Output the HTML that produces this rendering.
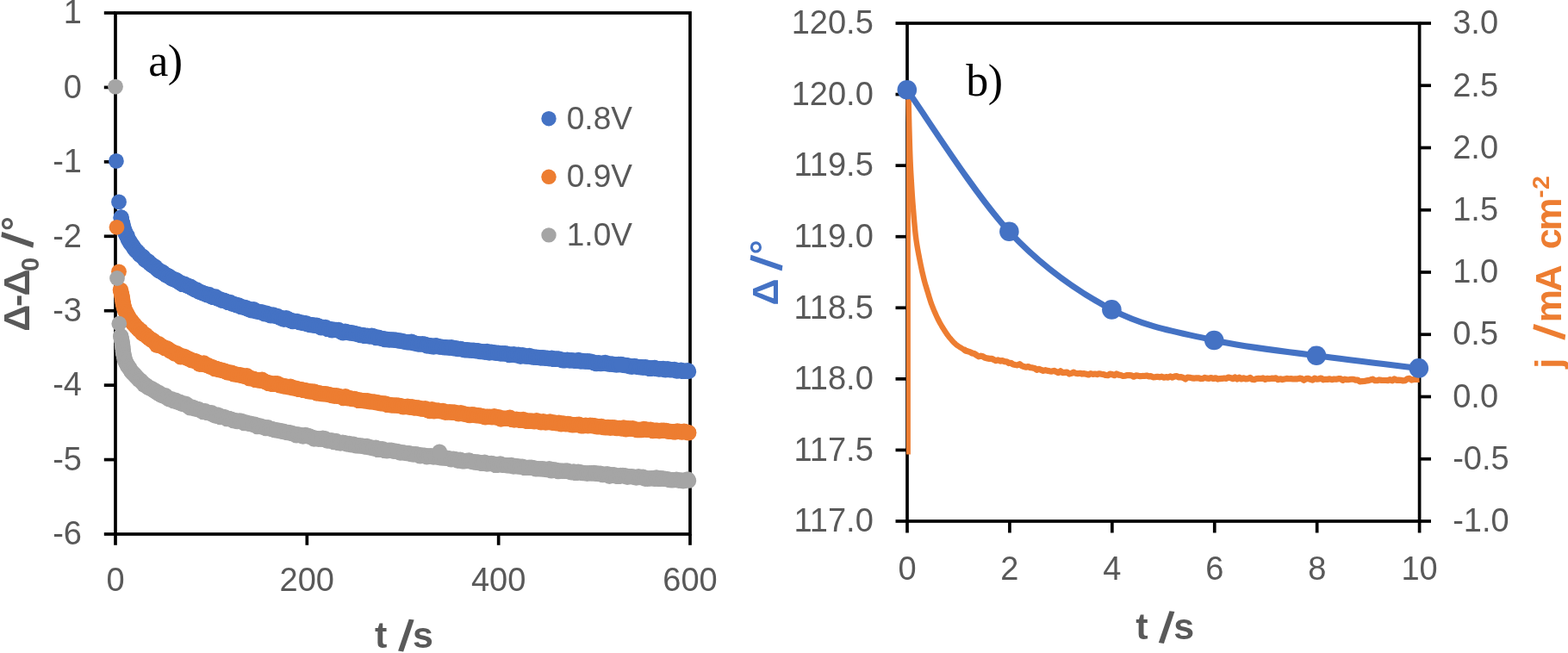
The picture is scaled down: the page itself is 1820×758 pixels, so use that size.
<!DOCTYPE html>
<html><head><meta charset="utf-8"><title>Chart</title>
<style>
html,body{margin:0;padding:0;background:#fff;}
body{width:1820px;height:758px;overflow:hidden;}
svg{display:block;}
</style></head><body>
<svg width="1820" height="758" viewBox="0 0 1820 758">
<rect width="1820" height="758" fill="#fff"/>
<rect x="134.0" y="15.0" width="667.0" height="605.0" fill="none" stroke="#000" stroke-width="3.7"/>
<line x1="120.8" y1="15.00" x2="134.0" y2="15.00" stroke="#000" stroke-width="3.7"/>
<line x1="120.8" y1="101.43" x2="134.0" y2="101.43" stroke="#000" stroke-width="3.7"/>
<line x1="120.8" y1="187.86" x2="134.0" y2="187.86" stroke="#000" stroke-width="3.7"/>
<line x1="120.8" y1="274.29" x2="134.0" y2="274.29" stroke="#000" stroke-width="3.7"/>
<line x1="120.8" y1="360.71" x2="134.0" y2="360.71" stroke="#000" stroke-width="3.7"/>
<line x1="120.8" y1="447.14" x2="134.0" y2="447.14" stroke="#000" stroke-width="3.7"/>
<line x1="120.8" y1="533.57" x2="134.0" y2="533.57" stroke="#000" stroke-width="3.7"/>
<line x1="120.8" y1="620.00" x2="134.0" y2="620.00" stroke="#000" stroke-width="3.7"/>
<line x1="134.00" y1="620.0" x2="134.00" y2="632.8" stroke="#000" stroke-width="3.7"/>
<line x1="356.33" y1="620.0" x2="356.33" y2="632.8" stroke="#000" stroke-width="3.7"/>
<line x1="578.67" y1="620.0" x2="578.67" y2="632.8" stroke="#000" stroke-width="3.7"/>
<line x1="801.00" y1="620.0" x2="801.00" y2="632.8" stroke="#000" stroke-width="3.7"/>
<path d="M140.60,252.40 L142.00,259.46 L143.00,263.10 L144.00,266.19 L145.00,268.91 L146.00,271.36 L147.00,273.60 L148.00,275.66 L149.00,277.59 L150.00,279.39 L151.00,281.10 L152.00,282.71 L153.00,284.25 L154.00,285.66 L155.00,287.01 L156.00,288.30 L157.00,289.55 L158.00,290.75 L159.00,291.92 L160.00,293.04 L164.00,297.24 L168.00,301.01 L172.00,304.46 L176.00,307.65 L180.00,310.62 L184.00,313.41 L188.00,316.04 L192.00,318.53 L196.00,320.89 L200.00,323.16 L204.00,325.32 L208.00,327.40 L212.00,329.39 L216.00,331.32 L220.00,333.18 L224.00,334.98 L228.00,336.73 L232.00,338.42 L236.00,340.06 L240.00,341.66 L248.00,344.74 L256.00,347.66 L264.00,350.45 L272.00,353.12 L280.00,355.68 L288.00,358.15 L296.00,360.52 L304.00,362.80 L312.00,365.01 L320.00,367.14 L328.00,369.20 L336.00,371.20 L344.00,373.13 L352.00,375.00 L360.00,376.82 L368.00,378.58 L376.00,380.29 L384.00,381.94 L392.00,383.55 L400.00,385.10 L408.00,386.61 L416.00,388.07 L424.00,389.48 L432.00,390.85 L440.00,392.17 L448.00,393.46 L456.00,394.70 L464.00,395.91 L472.00,397.08 L480.00,398.22 L488.00,399.33 L496.00,400.41 L504.00,401.46 L512.00,402.48 L520.00,403.47 L528.00,404.44 L536.00,405.39 L544.00,406.32 L552.00,407.22 L560.00,408.11 L568.00,408.98 L576.00,409.83 L584.00,410.67 L592.00,411.49 L600.00,412.30 L608.00,413.10 L616.00,413.89 L624.00,414.67 L632.00,415.43 L640.00,416.20 L648.00,416.95 L656.00,417.70 L664.00,418.44 L672.00,419.18 L680.00,419.92 L688.00,420.66 L696.00,421.39 L704.00,422.13 L712.00,422.87 L720.00,423.60 L728.00,424.35 L736.00,425.09 L744.00,425.84 L752.00,426.60 L760.00,427.36 L768.00,428.13 L776.00,428.91 L784.00,429.70 L792.00,430.49 L799.50,431.25" fill="none" stroke="#4472C4" stroke-width="17.4" stroke-linecap="round" stroke-linejoin="round"/><g fill="#4472C4"><circle cx="140.6" cy="252.4" r="9.2"/><circle cx="141.1" cy="255.7" r="9.2"/><circle cx="141.6" cy="258.2" r="9.2"/><circle cx="142.2" cy="259.8" r="9.2"/><circle cx="142.8" cy="262.4" r="9.2"/><circle cx="143.6" cy="264.7" r="9.2"/><circle cx="144.5" cy="267.8" r="9.2"/><circle cx="145.4" cy="269.9" r="9.2"/><circle cx="146.4" cy="272.7" r="9.2"/><circle cx="147.5" cy="273.6" r="9.2"/><circle cx="148.7" cy="277.8" r="9.2"/><circle cx="149.9" cy="279.2" r="9.2"/><circle cx="151.3" cy="281.9" r="9.2"/><circle cx="152.6" cy="283.6" r="9.2"/><circle cx="154.1" cy="285.6" r="9.2"/><circle cx="155.7" cy="288.2" r="9.2"/><circle cx="157.3" cy="290.4" r="9.2"/><circle cx="159.0" cy="291.8" r="9.2"/><circle cx="160.8" cy="293.8" r="9.2"/><circle cx="162.6" cy="296.1" r="9.2"/><circle cx="164.4" cy="297.1" r="9.2"/><circle cx="166.3" cy="298.5" r="9.2"/><circle cx="168.2" cy="301.4" r="9.2"/><circle cx="170.1" cy="302.5" r="9.2"/><circle cx="172.1" cy="303.5" r="9.2"/><circle cx="174.1" cy="305.7" r="9.2"/><circle cx="176.2" cy="307.5" r="9.2"/><circle cx="178.3" cy="308.7" r="9.2"/><circle cx="180.3" cy="310.0" r="9.2"/><circle cx="182.5" cy="312.4" r="9.2"/><circle cx="184.6" cy="314.3" r="9.2"/><circle cx="186.8" cy="315.1" r="9.2"/><circle cx="189.0" cy="316.2" r="9.2"/><circle cx="191.2" cy="318.2" r="9.2"/><circle cx="193.4" cy="319.8" r="9.2"/><circle cx="195.7" cy="320.5" r="9.2"/><circle cx="197.9" cy="322.3" r="9.2"/><circle cx="200.2" cy="323.8" r="9.2"/><circle cx="202.5" cy="324.4" r="9.2"/><circle cx="204.8" cy="325.3" r="9.2"/><circle cx="207.1" cy="327.1" r="9.2"/><circle cx="209.4" cy="328.2" r="9.2"/><circle cx="211.7" cy="329.9" r="9.2"/><circle cx="214.1" cy="329.7" r="9.2"/><circle cx="216.4" cy="331.1" r="9.2"/><circle cx="218.8" cy="332.1" r="9.2"/><circle cx="221.1" cy="332.7" r="9.2"/><circle cx="223.5" cy="334.8" r="9.2"/><circle cx="225.9" cy="336.1" r="9.2"/><circle cx="228.3" cy="336.4" r="9.2"/><circle cx="230.7" cy="338.6" r="9.2"/><circle cx="233.1" cy="339.3" r="9.2"/><circle cx="235.5" cy="340.2" r="9.2"/><circle cx="237.9" cy="341.0" r="9.2"/><circle cx="240.3" cy="342.3" r="9.2"/><circle cx="242.7" cy="342.0" r="9.2"/><circle cx="245.1" cy="344.0" r="9.2"/><circle cx="247.6" cy="344.9" r="9.2"/><circle cx="250.0" cy="344.5" r="9.2"/><circle cx="252.4" cy="346.6" r="9.2"/><circle cx="254.9" cy="347.1" r="9.2"/><circle cx="257.3" cy="348.6" r="9.2"/><circle cx="259.8" cy="348.7" r="9.2"/><circle cx="262.2" cy="349.8" r="9.2"/><circle cx="264.7" cy="350.9" r="9.2"/><circle cx="267.2" cy="351.0" r="9.2"/><circle cx="269.6" cy="352.7" r="9.2"/><circle cx="272.1" cy="353.1" r="9.2"/><circle cx="274.6" cy="354.2" r="9.2"/><circle cx="277.1" cy="354.5" r="9.2"/><circle cx="279.5" cy="356.1" r="9.2"/><circle cx="282.0" cy="356.6" r="9.2"/><circle cx="284.5" cy="357.0" r="9.2"/><circle cx="287.0" cy="358.2" r="9.2"/><circle cx="289.5" cy="359.3" r="9.2"/><circle cx="292.0" cy="360.3" r="9.2"/><circle cx="294.5" cy="359.2" r="9.2"/><circle cx="297.0" cy="361.3" r="9.2"/><circle cx="299.5" cy="361.8" r="9.2"/><circle cx="302.0" cy="362.2" r="9.2"/><circle cx="304.5" cy="362.4" r="9.2"/><circle cx="307.0" cy="364.3" r="9.2"/><circle cx="309.5" cy="363.6" r="9.2"/><circle cx="312.0" cy="365.3" r="9.2"/><circle cx="314.5" cy="366.4" r="9.2"/><circle cx="317.0" cy="365.5" r="9.2"/><circle cx="319.5" cy="366.8" r="9.2"/><circle cx="322.0" cy="366.9" r="9.2"/><circle cx="324.5" cy="368.4" r="9.2"/><circle cx="327.1" cy="369.8" r="9.2"/><circle cx="329.6" cy="370.7" r="9.2"/><circle cx="332.1" cy="369.2" r="9.2"/><circle cx="334.6" cy="370.5" r="9.2"/><circle cx="337.2" cy="371.9" r="9.2"/><circle cx="339.7" cy="373.0" r="9.2"/><circle cx="342.2" cy="372.9" r="9.2"/><circle cx="344.7" cy="372.9" r="9.2"/><circle cx="347.3" cy="374.1" r="9.2"/><circle cx="349.8" cy="374.5" r="9.2"/><circle cx="352.3" cy="375.0" r="9.2"/><circle cx="354.9" cy="375.3" r="9.2"/><circle cx="357.4" cy="376.4" r="9.2"/><circle cx="359.9" cy="377.0" r="9.2"/><circle cx="362.5" cy="377.3" r="9.2"/><circle cx="365.0" cy="377.8" r="9.2"/><circle cx="367.6" cy="377.8" r="9.2"/><circle cx="370.1" cy="378.8" r="9.2"/><circle cx="372.6" cy="380.2" r="9.2"/><circle cx="375.2" cy="380.0" r="9.2"/><circle cx="377.7" cy="379.9" r="9.2"/><circle cx="380.3" cy="381.9" r="9.2"/><circle cx="382.8" cy="382.0" r="9.2"/><circle cx="385.4" cy="383.4" r="9.2"/><circle cx="387.9" cy="382.8" r="9.2"/><circle cx="390.5" cy="383.0" r="9.2"/><circle cx="393.0" cy="382.9" r="9.2"/><circle cx="395.6" cy="385.0" r="9.2"/><circle cx="398.1" cy="386.2" r="9.2"/><circle cx="400.7" cy="384.8" r="9.2"/><circle cx="403.2" cy="385.4" r="9.2"/><circle cx="405.8" cy="386.5" r="9.2"/><circle cx="408.3" cy="386.2" r="9.2"/><circle cx="410.9" cy="387.0" r="9.2"/><circle cx="413.5" cy="387.4" r="9.2"/><circle cx="416.0" cy="388.2" r="9.2"/><circle cx="418.6" cy="389.1" r="9.2"/><circle cx="421.1" cy="389.0" r="9.2"/><circle cx="423.7" cy="389.9" r="9.2"/><circle cx="426.3" cy="389.6" r="9.2"/><circle cx="428.8" cy="390.5" r="9.2"/><circle cx="431.4" cy="389.6" r="9.2"/><circle cx="434.0" cy="390.4" r="9.2"/><circle cx="436.5" cy="392.0" r="9.2"/><circle cx="439.1" cy="391.7" r="9.2"/><circle cx="441.6" cy="392.8" r="9.2"/><circle cx="444.2" cy="393.1" r="9.2"/><circle cx="446.8" cy="394.0" r="9.2"/><circle cx="449.4" cy="394.1" r="9.2"/><circle cx="451.9" cy="394.6" r="9.2"/><circle cx="454.5" cy="394.4" r="9.2"/><circle cx="457.1" cy="394.5" r="9.2"/><circle cx="459.6" cy="394.8" r="9.2"/><circle cx="462.2" cy="395.4" r="9.2"/><circle cx="464.8" cy="395.4" r="9.2"/><circle cx="467.3" cy="396.1" r="9.2"/><circle cx="469.9" cy="396.7" r="9.2"/><circle cx="472.5" cy="397.3" r="9.2"/><circle cx="475.1" cy="397.3" r="9.2"/><circle cx="477.6" cy="396.8" r="9.2"/><circle cx="480.2" cy="398.2" r="9.2"/><circle cx="482.8" cy="398.7" r="9.2"/><circle cx="485.4" cy="399.6" r="9.2"/><circle cx="487.9" cy="399.6" r="9.2"/><circle cx="490.5" cy="399.3" r="9.2"/><circle cx="493.1" cy="399.6" r="9.2"/><circle cx="495.7" cy="401.5" r="9.2"/><circle cx="498.2" cy="401.1" r="9.2"/><circle cx="500.8" cy="402.0" r="9.2"/><circle cx="503.4" cy="402.5" r="9.2"/><circle cx="506.0" cy="401.3" r="9.2"/><circle cx="508.6" cy="402.2" r="9.2"/><circle cx="511.1" cy="402.6" r="9.2"/><circle cx="513.7" cy="403.0" r="9.2"/><circle cx="516.3" cy="403.3" r="9.2"/><circle cx="518.9" cy="403.4" r="9.2"/><circle cx="521.5" cy="403.7" r="9.2"/><circle cx="524.0" cy="403.1" r="9.2"/><circle cx="526.6" cy="404.2" r="9.2"/><circle cx="529.2" cy="404.2" r="9.2"/><circle cx="531.8" cy="405.0" r="9.2"/><circle cx="534.4" cy="404.9" r="9.2"/><circle cx="536.9" cy="405.8" r="9.2"/><circle cx="539.5" cy="406.3" r="9.2"/><circle cx="542.1" cy="406.3" r="9.2"/><circle cx="544.7" cy="406.6" r="9.2"/><circle cx="547.3" cy="406.7" r="9.2"/><circle cx="549.9" cy="406.7" r="9.2"/><circle cx="552.4" cy="407.2" r="9.2"/><circle cx="555.0" cy="407.3" r="9.2"/><circle cx="557.6" cy="408.1" r="9.2"/><circle cx="560.2" cy="408.1" r="9.2"/><circle cx="562.8" cy="408.7" r="9.2"/><circle cx="565.4" cy="408.0" r="9.2"/><circle cx="568.0" cy="409.5" r="9.2"/><circle cx="570.5" cy="408.8" r="9.2"/><circle cx="573.1" cy="409.1" r="9.2"/><circle cx="575.7" cy="409.7" r="9.2"/><circle cx="578.3" cy="409.8" r="9.2"/><circle cx="580.9" cy="410.5" r="9.2"/><circle cx="583.5" cy="410.3" r="9.2"/><circle cx="586.1" cy="410.3" r="9.2"/><circle cx="588.6" cy="410.7" r="9.2"/><circle cx="591.2" cy="412.1" r="9.2"/><circle cx="593.8" cy="411.7" r="9.2"/><circle cx="596.4" cy="411.3" r="9.2"/><circle cx="599.0" cy="412.2" r="9.2"/><circle cx="601.6" cy="411.6" r="9.2"/><circle cx="604.2" cy="413.7" r="9.2"/><circle cx="606.7" cy="412.1" r="9.2"/><circle cx="609.3" cy="413.5" r="9.2"/><circle cx="611.9" cy="413.8" r="9.2"/><circle cx="614.5" cy="412.9" r="9.2"/><circle cx="617.1" cy="414.2" r="9.2"/><circle cx="619.7" cy="414.8" r="9.2"/><circle cx="622.3" cy="414.8" r="9.2"/><circle cx="624.9" cy="414.9" r="9.2"/><circle cx="627.5" cy="415.5" r="9.2"/><circle cx="630.0" cy="415.3" r="9.2"/><circle cx="632.6" cy="415.7" r="9.2"/><circle cx="635.2" cy="415.7" r="9.2"/><circle cx="637.8" cy="416.3" r="9.2"/><circle cx="640.4" cy="415.7" r="9.2"/><circle cx="643.0" cy="416.9" r="9.2"/><circle cx="645.6" cy="416.4" r="9.2"/><circle cx="648.2" cy="416.4" r="9.2"/><circle cx="650.7" cy="417.4" r="9.2"/><circle cx="653.3" cy="418.4" r="9.2"/><circle cx="655.9" cy="418.2" r="9.2"/><circle cx="658.5" cy="417.6" r="9.2"/><circle cx="661.1" cy="418.6" r="9.2"/><circle cx="663.7" cy="418.2" r="9.2"/><circle cx="666.3" cy="418.6" r="9.2"/><circle cx="668.9" cy="418.9" r="9.2"/><circle cx="671.5" cy="417.9" r="9.2"/><circle cx="674.0" cy="419.5" r="9.2"/><circle cx="676.6" cy="419.0" r="9.2"/><circle cx="679.2" cy="419.5" r="9.2"/><circle cx="681.8" cy="419.3" r="9.2"/><circle cx="684.4" cy="419.5" r="9.2"/><circle cx="687.0" cy="420.0" r="9.2"/><circle cx="689.6" cy="421.3" r="9.2"/><circle cx="692.2" cy="422.0" r="9.2"/><circle cx="694.8" cy="421.3" r="9.2"/><circle cx="697.3" cy="422.1" r="9.2"/><circle cx="699.9" cy="421.6" r="9.2"/><circle cx="702.5" cy="420.9" r="9.2"/><circle cx="705.1" cy="422.3" r="9.2"/><circle cx="707.7" cy="422.7" r="9.2"/><circle cx="710.3" cy="422.5" r="9.2"/><circle cx="712.9" cy="423.1" r="9.2"/><circle cx="715.5" cy="423.5" r="9.2"/><circle cx="718.1" cy="423.0" r="9.2"/><circle cx="720.6" cy="422.9" r="9.2"/><circle cx="723.2" cy="423.8" r="9.2"/><circle cx="725.8" cy="424.0" r="9.2"/><circle cx="728.4" cy="424.2" r="9.2"/><circle cx="731.0" cy="425.2" r="9.2"/><circle cx="733.6" cy="425.8" r="9.2"/><circle cx="736.2" cy="424.9" r="9.2"/><circle cx="738.8" cy="425.7" r="9.2"/><circle cx="741.4" cy="426.1" r="9.2"/><circle cx="743.9" cy="426.2" r="9.2"/><circle cx="746.5" cy="426.7" r="9.2"/><circle cx="749.1" cy="426.1" r="9.2"/><circle cx="751.7" cy="427.0" r="9.2"/><circle cx="754.3" cy="427.9" r="9.2"/><circle cx="756.9" cy="427.5" r="9.2"/><circle cx="759.5" cy="427.0" r="9.2"/><circle cx="762.1" cy="427.9" r="9.2"/><circle cx="764.7" cy="428.5" r="9.2"/><circle cx="767.2" cy="428.3" r="9.2"/><circle cx="769.8" cy="428.0" r="9.2"/><circle cx="772.4" cy="429.4" r="9.2"/><circle cx="775.0" cy="428.1" r="9.2"/><circle cx="777.6" cy="429.3" r="9.2"/><circle cx="780.2" cy="429.3" r="9.2"/><circle cx="782.8" cy="428.9" r="9.2"/><circle cx="785.4" cy="430.5" r="9.2"/><circle cx="787.9" cy="430.3" r="9.2"/><circle cx="790.5" cy="429.7" r="9.2"/><circle cx="793.1" cy="430.9" r="9.2"/><circle cx="795.7" cy="430.6" r="9.2"/><circle cx="798.3" cy="430.1" r="9.2"/></g>
<circle cx="134.9" cy="186.9" r="8.9" fill="#4472C4"/><circle cx="138.0" cy="234.4" r="8.9" fill="#4472C4"/><circle cx="140.6" cy="252.4" r="8.9" fill="#4472C4"/><circle cx="721.4" cy="422.8" r="8.9" fill="#4472C4"/>
<path d="M139.90,337.00 L141.20,341.50 L143.00,352.99 L144.00,356.86 L145.00,359.69 L146.00,362.03 L147.00,364.07 L148.00,365.90 L149.00,367.58 L150.00,369.15 L151.00,370.61 L152.00,372.00 L153.00,373.33 L154.00,374.60 L155.00,375.85 L156.00,377.05 L157.00,378.20 L158.00,379.31 L159.00,380.38 L160.00,381.42 L164.00,385.26 L168.00,388.70 L172.00,391.82 L176.00,394.69 L180.00,397.35 L184.00,399.82 L188.00,402.14 L192.00,404.32 L196.00,406.38 L200.00,408.34 L204.00,410.20 L208.00,411.97 L212.00,413.68 L216.00,415.31 L220.00,416.89 L224.00,418.42 L228.00,419.91 L232.00,421.35 L236.00,422.75 L240.00,424.11 L248.00,426.73 L256.00,429.22 L264.00,431.61 L272.00,433.89 L280.00,436.08 L288.00,438.18 L296.00,440.21 L304.00,442.16 L312.00,444.05 L320.00,445.88 L328.00,447.64 L336.00,449.35 L344.00,451.01 L352.00,452.62 L360.00,454.18 L368.00,455.70 L376.00,457.17 L384.00,458.61 L392.00,460.01 L400.00,461.37 L408.00,462.70 L416.00,464.00 L424.00,465.26 L432.00,466.50 L440.00,467.70 L448.00,468.88 L456.00,470.03 L464.00,471.16 L472.00,472.26 L480.00,473.34 L488.00,474.39 L496.00,475.42 L504.00,476.43 L512.00,477.42 L520.00,478.38 L528.00,479.33 L536.00,480.26 L544.00,481.16 L552.00,482.05 L560.00,482.92 L568.00,483.78 L576.00,484.61 L584.00,485.43 L592.00,486.23 L600.00,487.01 L608.00,487.78 L616.00,488.53 L624.00,489.27 L632.00,489.99 L640.00,490.70 L648.00,491.39 L656.00,492.06 L664.00,492.73 L672.00,493.37 L680.00,494.01 L688.00,494.63 L696.00,495.23 L704.00,495.82 L712.00,496.40 L720.00,496.97 L728.00,497.52 L736.00,498.06 L744.00,498.58 L752.00,499.09 L760.00,499.59 L768.00,500.08 L776.00,500.56 L784.00,501.02 L792.00,501.47 L799.50,501.88" fill="none" stroke="#ED7D31" stroke-width="17.4" stroke-linecap="round" stroke-linejoin="round"/><g fill="#ED7D31"><circle cx="139.9" cy="336.6" r="9.2"/><circle cx="140.6" cy="339.6" r="9.2"/><circle cx="141.3" cy="342.4" r="9.2"/><circle cx="141.7" cy="344.7" r="9.2"/><circle cx="142.1" cy="347.2" r="9.2"/><circle cx="142.5" cy="350.0" r="9.2"/><circle cx="142.9" cy="352.2" r="9.2"/><circle cx="143.5" cy="355.5" r="9.2"/><circle cx="144.2" cy="357.4" r="9.2"/><circle cx="145.0" cy="359.9" r="9.2"/><circle cx="146.1" cy="362.5" r="9.2"/><circle cx="147.2" cy="363.9" r="9.2"/><circle cx="148.5" cy="366.4" r="9.2"/><circle cx="149.9" cy="369.8" r="9.2"/><circle cx="151.3" cy="371.3" r="9.2"/><circle cx="152.9" cy="373.0" r="9.2"/><circle cx="154.5" cy="375.4" r="9.2"/><circle cx="156.2" cy="377.0" r="9.2"/><circle cx="157.9" cy="379.3" r="9.2"/><circle cx="159.7" cy="380.7" r="9.2"/><circle cx="161.5" cy="383.0" r="9.2"/><circle cx="163.4" cy="383.8" r="9.2"/><circle cx="165.3" cy="387.1" r="9.2"/><circle cx="167.3" cy="387.8" r="9.2"/><circle cx="169.3" cy="388.9" r="9.2"/><circle cx="171.4" cy="391.2" r="9.2"/><circle cx="173.5" cy="392.7" r="9.2"/><circle cx="175.6" cy="394.5" r="9.2"/><circle cx="177.7" cy="395.2" r="9.2"/><circle cx="179.9" cy="397.5" r="9.2"/><circle cx="182.1" cy="400.7" r="9.2"/><circle cx="184.3" cy="399.3" r="9.2"/><circle cx="186.6" cy="401.5" r="9.2"/><circle cx="188.9" cy="402.4" r="9.2"/><circle cx="191.1" cy="404.0" r="9.2"/><circle cx="193.4" cy="404.1" r="9.2"/><circle cx="195.7" cy="405.6" r="9.2"/><circle cx="198.1" cy="407.7" r="9.2"/><circle cx="200.4" cy="408.5" r="9.2"/><circle cx="202.8" cy="410.5" r="9.2"/><circle cx="205.1" cy="410.3" r="9.2"/><circle cx="207.5" cy="411.9" r="9.2"/><circle cx="209.9" cy="414.4" r="9.2"/><circle cx="212.3" cy="413.4" r="9.2"/><circle cx="214.7" cy="414.3" r="9.2"/><circle cx="217.1" cy="415.7" r="9.2"/><circle cx="219.5" cy="416.7" r="9.2"/><circle cx="222.0" cy="418.1" r="9.2"/><circle cx="224.4" cy="418.6" r="9.2"/><circle cx="226.8" cy="419.1" r="9.2"/><circle cx="229.3" cy="420.5" r="9.2"/><circle cx="231.7" cy="422.7" r="9.2"/><circle cx="234.2" cy="422.8" r="9.2"/><circle cx="236.6" cy="421.4" r="9.2"/><circle cx="239.1" cy="423.7" r="9.2"/><circle cx="241.6" cy="424.1" r="9.2"/><circle cx="244.0" cy="425.8" r="9.2"/><circle cx="246.5" cy="426.1" r="9.2"/><circle cx="249.0" cy="428.1" r="9.2"/><circle cx="251.5" cy="428.3" r="9.2"/><circle cx="253.9" cy="429.1" r="9.2"/><circle cx="256.4" cy="429.5" r="9.2"/><circle cx="258.9" cy="430.1" r="9.2"/><circle cx="261.4" cy="431.0" r="9.2"/><circle cx="263.9" cy="432.3" r="9.2"/><circle cx="266.4" cy="432.6" r="9.2"/><circle cx="268.9" cy="432.8" r="9.2"/><circle cx="271.4" cy="434.4" r="9.2"/><circle cx="273.9" cy="434.5" r="9.2"/><circle cx="276.4" cy="435.1" r="9.2"/><circle cx="278.9" cy="435.3" r="9.2"/><circle cx="281.4" cy="436.1" r="9.2"/><circle cx="283.9" cy="436.8" r="9.2"/><circle cx="286.5" cy="436.2" r="9.2"/><circle cx="289.0" cy="439.0" r="9.2"/><circle cx="291.5" cy="439.4" r="9.2"/><circle cx="294.0" cy="439.6" r="9.2"/><circle cx="296.5" cy="440.9" r="9.2"/><circle cx="299.1" cy="441.2" r="9.2"/><circle cx="301.6" cy="441.8" r="9.2"/><circle cx="304.1" cy="440.8" r="9.2"/><circle cx="306.7" cy="442.7" r="9.2"/><circle cx="309.2" cy="443.7" r="9.2"/><circle cx="311.7" cy="444.9" r="9.2"/><circle cx="314.2" cy="445.6" r="9.2"/><circle cx="316.8" cy="445.9" r="9.2"/><circle cx="319.3" cy="445.1" r="9.2"/><circle cx="321.9" cy="445.1" r="9.2"/><circle cx="324.4" cy="447.2" r="9.2"/><circle cx="326.9" cy="447.4" r="9.2"/><circle cx="329.5" cy="448.5" r="9.2"/><circle cx="332.0" cy="448.4" r="9.2"/><circle cx="334.6" cy="449.2" r="9.2"/><circle cx="337.1" cy="448.8" r="9.2"/><circle cx="339.6" cy="450.4" r="9.2"/><circle cx="342.2" cy="450.4" r="9.2"/><circle cx="344.7" cy="451.3" r="9.2"/><circle cx="347.3" cy="451.9" r="9.2"/><circle cx="349.8" cy="452.1" r="9.2"/><circle cx="352.4" cy="452.9" r="9.2"/><circle cx="354.9" cy="453.2" r="9.2"/><circle cx="357.5" cy="454.1" r="9.2"/><circle cx="360.0" cy="454.5" r="9.2"/><circle cx="362.6" cy="454.4" r="9.2"/><circle cx="365.2" cy="454.8" r="9.2"/><circle cx="367.7" cy="456.6" r="9.2"/><circle cx="370.3" cy="456.1" r="9.2"/><circle cx="372.8" cy="457.1" r="9.2"/><circle cx="375.4" cy="457.3" r="9.2"/><circle cx="377.9" cy="457.2" r="9.2"/><circle cx="380.5" cy="457.6" r="9.2"/><circle cx="383.1" cy="458.5" r="9.2"/><circle cx="385.6" cy="459.0" r="9.2"/><circle cx="388.2" cy="459.7" r="9.2"/><circle cx="390.7" cy="459.1" r="9.2"/><circle cx="393.3" cy="459.9" r="9.2"/><circle cx="395.9" cy="460.6" r="9.2"/><circle cx="398.4" cy="462.0" r="9.2"/><circle cx="401.0" cy="460.2" r="9.2"/><circle cx="403.6" cy="462.2" r="9.2"/><circle cx="406.1" cy="462.1" r="9.2"/><circle cx="408.7" cy="463.0" r="9.2"/><circle cx="411.2" cy="463.0" r="9.2"/><circle cx="413.8" cy="463.8" r="9.2"/><circle cx="416.4" cy="464.9" r="9.2"/><circle cx="419.0" cy="464.7" r="9.2"/><circle cx="421.5" cy="465.1" r="9.2"/><circle cx="424.1" cy="465.5" r="9.2"/><circle cx="426.7" cy="465.3" r="9.2"/><circle cx="429.2" cy="466.4" r="9.2"/><circle cx="431.8" cy="466.4" r="9.2"/><circle cx="434.4" cy="466.4" r="9.2"/><circle cx="436.9" cy="467.2" r="9.2"/><circle cx="439.5" cy="467.5" r="9.2"/><circle cx="442.1" cy="468.4" r="9.2"/><circle cx="444.7" cy="468.4" r="9.2"/><circle cx="447.2" cy="468.5" r="9.2"/><circle cx="449.8" cy="469.9" r="9.2"/><circle cx="452.4" cy="470.1" r="9.2"/><circle cx="454.9" cy="470.6" r="9.2"/><circle cx="457.5" cy="470.6" r="9.2"/><circle cx="460.1" cy="470.5" r="9.2"/><circle cx="462.7" cy="470.7" r="9.2"/><circle cx="465.2" cy="471.2" r="9.2"/><circle cx="467.8" cy="472.2" r="9.2"/><circle cx="470.4" cy="472.1" r="9.2"/><circle cx="473.0" cy="471.6" r="9.2"/><circle cx="475.5" cy="472.7" r="9.2"/><circle cx="478.1" cy="472.3" r="9.2"/><circle cx="480.7" cy="473.5" r="9.2"/><circle cx="483.3" cy="473.1" r="9.2"/><circle cx="485.9" cy="473.4" r="9.2"/><circle cx="488.4" cy="474.5" r="9.2"/><circle cx="491.0" cy="474.7" r="9.2"/><circle cx="493.6" cy="474.2" r="9.2"/><circle cx="496.2" cy="475.9" r="9.2"/><circle cx="498.8" cy="477.0" r="9.2"/><circle cx="501.3" cy="475.3" r="9.2"/><circle cx="503.9" cy="477.4" r="9.2"/><circle cx="506.5" cy="476.4" r="9.2"/><circle cx="509.1" cy="476.8" r="9.2"/><circle cx="511.7" cy="477.3" r="9.2"/><circle cx="514.2" cy="476.9" r="9.2"/><circle cx="516.8" cy="478.7" r="9.2"/><circle cx="519.4" cy="478.6" r="9.2"/><circle cx="522.0" cy="478.2" r="9.2"/><circle cx="524.6" cy="478.8" r="9.2"/><circle cx="527.1" cy="478.4" r="9.2"/><circle cx="529.7" cy="479.3" r="9.2"/><circle cx="532.3" cy="480.3" r="9.2"/><circle cx="534.9" cy="479.2" r="9.2"/><circle cx="537.5" cy="480.2" r="9.2"/><circle cx="540.1" cy="480.8" r="9.2"/><circle cx="542.6" cy="481.6" r="9.2"/><circle cx="545.2" cy="482.0" r="9.2"/><circle cx="547.8" cy="481.3" r="9.2"/><circle cx="550.4" cy="481.5" r="9.2"/><circle cx="553.0" cy="482.4" r="9.2"/><circle cx="555.6" cy="482.2" r="9.2"/><circle cx="558.1" cy="482.6" r="9.2"/><circle cx="560.7" cy="483.6" r="9.2"/><circle cx="563.3" cy="484.2" r="9.2"/><circle cx="565.9" cy="483.7" r="9.2"/><circle cx="568.5" cy="483.7" r="9.2"/><circle cx="571.1" cy="484.4" r="9.2"/><circle cx="573.7" cy="483.3" r="9.2"/><circle cx="576.2" cy="484.6" r="9.2"/><circle cx="578.8" cy="484.3" r="9.2"/><circle cx="581.4" cy="486.5" r="9.2"/><circle cx="584.0" cy="485.8" r="9.2"/><circle cx="586.6" cy="485.8" r="9.2"/><circle cx="589.2" cy="485.8" r="9.2"/><circle cx="591.8" cy="484.8" r="9.2"/><circle cx="594.4" cy="486.9" r="9.2"/><circle cx="596.9" cy="487.6" r="9.2"/><circle cx="599.5" cy="486.6" r="9.2"/><circle cx="602.1" cy="487.6" r="9.2"/><circle cx="604.7" cy="487.9" r="9.2"/><circle cx="607.3" cy="486.9" r="9.2"/><circle cx="609.9" cy="488.5" r="9.2"/><circle cx="612.5" cy="488.9" r="9.2"/><circle cx="615.1" cy="488.6" r="9.2"/><circle cx="617.6" cy="488.7" r="9.2"/><circle cx="620.2" cy="489.4" r="9.2"/><circle cx="622.8" cy="488.3" r="9.2"/><circle cx="625.4" cy="489.4" r="9.2"/><circle cx="628.0" cy="490.2" r="9.2"/><circle cx="630.6" cy="489.2" r="9.2"/><circle cx="633.2" cy="490.6" r="9.2"/><circle cx="635.8" cy="490.1" r="9.2"/><circle cx="638.4" cy="489.4" r="9.2"/><circle cx="641.0" cy="490.7" r="9.2"/><circle cx="643.5" cy="490.5" r="9.2"/><circle cx="646.1" cy="491.4" r="9.2"/><circle cx="648.7" cy="490.8" r="9.2"/><circle cx="651.3" cy="492.2" r="9.2"/><circle cx="653.9" cy="491.5" r="9.2"/><circle cx="656.5" cy="492.3" r="9.2"/><circle cx="659.1" cy="492.0" r="9.2"/><circle cx="661.7" cy="492.4" r="9.2"/><circle cx="664.3" cy="493.4" r="9.2"/><circle cx="666.9" cy="493.1" r="9.2"/><circle cx="669.5" cy="493.0" r="9.2"/><circle cx="672.0" cy="492.7" r="9.2"/><circle cx="674.6" cy="494.2" r="9.2"/><circle cx="677.2" cy="494.2" r="9.2"/><circle cx="679.8" cy="493.8" r="9.2"/><circle cx="682.4" cy="494.3" r="9.2"/><circle cx="685.0" cy="493.8" r="9.2"/><circle cx="687.6" cy="494.0" r="9.2"/><circle cx="690.2" cy="494.3" r="9.2"/><circle cx="692.8" cy="495.2" r="9.2"/><circle cx="695.4" cy="495.3" r="9.2"/><circle cx="698.0" cy="495.0" r="9.2"/><circle cx="700.6" cy="496.0" r="9.2"/><circle cx="703.2" cy="496.2" r="9.2"/><circle cx="705.7" cy="496.0" r="9.2"/><circle cx="708.3" cy="496.7" r="9.2"/><circle cx="710.9" cy="496.2" r="9.2"/><circle cx="713.5" cy="496.4" r="9.2"/><circle cx="716.1" cy="497.0" r="9.2"/><circle cx="718.7" cy="496.9" r="9.2"/><circle cx="721.3" cy="497.5" r="9.2"/><circle cx="723.9" cy="496.5" r="9.2"/><circle cx="726.5" cy="498.2" r="9.2"/><circle cx="729.1" cy="497.2" r="9.2"/><circle cx="731.7" cy="497.7" r="9.2"/><circle cx="734.3" cy="497.2" r="9.2"/><circle cx="736.9" cy="498.4" r="9.2"/><circle cx="739.5" cy="499.0" r="9.2"/><circle cx="742.1" cy="499.0" r="9.2"/><circle cx="744.7" cy="499.1" r="9.2"/><circle cx="747.2" cy="497.9" r="9.2"/><circle cx="749.8" cy="498.5" r="9.2"/><circle cx="752.4" cy="498.9" r="9.2"/><circle cx="755.0" cy="498.8" r="9.2"/><circle cx="757.6" cy="500.1" r="9.2"/><circle cx="760.2" cy="499.7" r="9.2"/><circle cx="762.8" cy="499.8" r="9.2"/><circle cx="765.4" cy="500.2" r="9.2"/><circle cx="768.0" cy="499.6" r="9.2"/><circle cx="770.6" cy="499.7" r="9.2"/><circle cx="773.2" cy="499.9" r="9.2"/><circle cx="775.8" cy="500.8" r="9.2"/><circle cx="778.4" cy="500.9" r="9.2"/><circle cx="781.0" cy="501.2" r="9.2"/><circle cx="783.6" cy="501.6" r="9.2"/><circle cx="786.2" cy="500.4" r="9.2"/><circle cx="788.8" cy="501.0" r="9.2"/><circle cx="791.4" cy="501.5" r="9.2"/><circle cx="794.0" cy="500.8" r="9.2"/><circle cx="796.6" cy="501.4" r="9.2"/><circle cx="799.2" cy="502.4" r="9.2"/></g>
<circle cx="135.5" cy="263.8" r="8.9" fill="#ED7D31"/><circle cx="138.0" cy="315.3" r="8.9" fill="#ED7D31"/>
<path d="M140.20,389.60 L141.80,398.00 L143.00,408.88 L144.00,414.29 L145.00,417.61 L146.00,420.21 L147.00,422.40 L148.00,424.34 L149.00,426.09 L150.00,427.70 L151.00,429.20 L152.00,430.60 L153.00,431.93 L154.00,433.20 L155.00,434.40 L156.00,435.53 L157.00,436.60 L158.00,437.64 L159.00,438.63 L160.00,439.59 L164.00,443.12 L168.00,446.26 L172.00,449.11 L176.00,451.71 L180.00,454.12 L184.00,456.35 L188.00,458.45 L192.00,460.42 L196.00,462.28 L200.00,464.04 L204.00,465.73 L208.00,467.34 L212.00,468.89 L216.00,470.37 L220.00,471.81 L224.00,473.21 L228.00,474.57 L232.00,475.89 L236.00,477.17 L240.00,478.42 L248.00,480.85 L256.00,483.16 L264.00,485.39 L272.00,487.53 L280.00,489.61 L288.00,491.61 L296.00,493.55 L304.00,495.44 L312.00,497.27 L320.00,499.05 L328.00,500.79 L336.00,502.48 L344.00,504.13 L352.00,505.74 L360.00,507.31 L368.00,508.84 L376.00,510.34 L384.00,511.80 L392.00,513.22 L400.00,514.61 L408.00,515.97 L416.00,517.30 L424.00,518.60 L432.00,519.88 L440.00,521.12 L448.00,522.34 L456.00,523.54 L464.00,524.71 L472.00,525.86 L480.00,526.98 L488.00,528.09 L496.00,529.17 L504.00,530.23 L512.00,531.27 L520.00,532.29 L528.00,533.29 L536.00,534.27 L544.00,535.24 L552.00,536.19 L560.00,537.11 L568.00,538.03 L576.00,538.92 L584.00,539.80 L592.00,540.66 L600.00,541.51 L608.00,542.34 L616.00,543.16 L624.00,543.96 L632.00,544.75 L640.00,545.52 L648.00,546.27 L656.00,547.02 L664.00,547.75 L672.00,548.46 L680.00,549.16 L688.00,549.85 L696.00,550.52 L704.00,551.19 L712.00,551.83 L720.00,552.47 L728.00,553.09 L736.00,553.70 L744.00,554.30 L752.00,554.88 L760.00,555.45 L768.00,556.01 L776.00,556.56 L784.00,557.10 L792.00,557.62 L799.50,558.10" fill="none" stroke="#A5A5A5" stroke-width="17.4" stroke-linecap="round" stroke-linejoin="round"/><g fill="#A5A5A5"><circle cx="140.2" cy="390.2" r="9.2"/><circle cx="140.7" cy="392.7" r="9.2"/><circle cx="141.2" cy="394.7" r="9.2"/><circle cx="141.7" cy="397.1" r="9.2"/><circle cx="142.0" cy="400.4" r="9.2"/><circle cx="142.3" cy="402.2" r="9.2"/><circle cx="142.6" cy="405.2" r="9.2"/><circle cx="142.9" cy="408.3" r="9.2"/><circle cx="143.2" cy="410.0" r="9.2"/><circle cx="143.7" cy="412.4" r="9.2"/><circle cx="144.3" cy="415.2" r="9.2"/><circle cx="145.0" cy="418.1" r="9.2"/><circle cx="146.0" cy="420.4" r="9.2"/><circle cx="147.1" cy="422.6" r="9.2"/><circle cx="148.3" cy="425.1" r="9.2"/><circle cx="149.6" cy="426.2" r="9.2"/><circle cx="151.0" cy="428.8" r="9.2"/><circle cx="152.6" cy="431.4" r="9.2"/><circle cx="154.2" cy="432.9" r="9.2"/><circle cx="155.9" cy="434.6" r="9.2"/><circle cx="157.6" cy="436.6" r="9.2"/><circle cx="159.5" cy="438.6" r="9.2"/><circle cx="161.4" cy="440.7" r="9.2"/><circle cx="163.4" cy="442.0" r="9.2"/><circle cx="165.4" cy="444.3" r="9.2"/><circle cx="167.4" cy="446.7" r="9.2"/><circle cx="169.5" cy="447.3" r="9.2"/><circle cx="171.6" cy="449.5" r="9.2"/><circle cx="173.8" cy="450.4" r="9.2"/><circle cx="176.0" cy="451.1" r="9.2"/><circle cx="178.2" cy="452.9" r="9.2"/><circle cx="180.4" cy="453.8" r="9.2"/><circle cx="182.7" cy="456.1" r="9.2"/><circle cx="185.0" cy="456.2" r="9.2"/><circle cx="187.3" cy="458.8" r="9.2"/><circle cx="189.6" cy="459.6" r="9.2"/><circle cx="192.0" cy="459.3" r="9.2"/><circle cx="194.3" cy="461.9" r="9.2"/><circle cx="196.7" cy="463.4" r="9.2"/><circle cx="199.0" cy="463.2" r="9.2"/><circle cx="201.4" cy="465.2" r="9.2"/><circle cx="203.8" cy="464.7" r="9.2"/><circle cx="206.2" cy="466.8" r="9.2"/><circle cx="208.7" cy="466.7" r="9.2"/><circle cx="211.1" cy="468.8" r="9.2"/><circle cx="213.5" cy="468.5" r="9.2"/><circle cx="216.0" cy="468.9" r="9.2"/><circle cx="218.4" cy="471.5" r="9.2"/><circle cx="220.9" cy="473.4" r="9.2"/><circle cx="223.3" cy="472.6" r="9.2"/><circle cx="225.8" cy="474.3" r="9.2"/><circle cx="228.2" cy="474.7" r="9.2"/><circle cx="230.7" cy="475.3" r="9.2"/><circle cx="233.2" cy="476.6" r="9.2"/><circle cx="235.6" cy="478.0" r="9.2"/><circle cx="238.1" cy="477.2" r="9.2"/><circle cx="240.6" cy="478.9" r="9.2"/><circle cx="243.1" cy="479.6" r="9.2"/><circle cx="245.6" cy="479.3" r="9.2"/><circle cx="248.1" cy="481.8" r="9.2"/><circle cx="250.6" cy="482.7" r="9.2"/><circle cx="253.1" cy="481.8" r="9.2"/><circle cx="255.6" cy="484.0" r="9.2"/><circle cx="258.1" cy="483.8" r="9.2"/><circle cx="260.6" cy="484.3" r="9.2"/><circle cx="263.1" cy="486.0" r="9.2"/><circle cx="265.6" cy="485.9" r="9.2"/><circle cx="268.1" cy="486.7" r="9.2"/><circle cx="270.6" cy="488.0" r="9.2"/><circle cx="273.1" cy="488.5" r="9.2"/><circle cx="275.6" cy="489.0" r="9.2"/><circle cx="278.2" cy="488.4" r="9.2"/><circle cx="280.7" cy="488.9" r="9.2"/><circle cx="283.2" cy="491.0" r="9.2"/><circle cx="285.7" cy="490.5" r="9.2"/><circle cx="288.2" cy="491.7" r="9.2"/><circle cx="290.8" cy="491.7" r="9.2"/><circle cx="293.3" cy="492.8" r="9.2"/><circle cx="295.8" cy="492.8" r="9.2"/><circle cx="298.4" cy="495.0" r="9.2"/><circle cx="300.9" cy="494.1" r="9.2"/><circle cx="303.4" cy="495.2" r="9.2"/><circle cx="305.9" cy="495.8" r="9.2"/><circle cx="308.5" cy="497.1" r="9.2"/><circle cx="311.0" cy="496.3" r="9.2"/><circle cx="313.6" cy="497.6" r="9.2"/><circle cx="316.1" cy="498.1" r="9.2"/><circle cx="318.6" cy="499.0" r="9.2"/><circle cx="321.2" cy="499.6" r="9.2"/><circle cx="323.7" cy="499.6" r="9.2"/><circle cx="326.3" cy="500.5" r="9.2"/><circle cx="328.8" cy="500.7" r="9.2"/><circle cx="331.3" cy="501.7" r="9.2"/><circle cx="333.9" cy="502.0" r="9.2"/><circle cx="336.4" cy="502.2" r="9.2"/><circle cx="339.0" cy="503.1" r="9.2"/><circle cx="341.5" cy="503.8" r="9.2"/><circle cx="344.1" cy="505.4" r="9.2"/><circle cx="346.6" cy="504.4" r="9.2"/><circle cx="349.2" cy="505.3" r="9.2"/><circle cx="351.7" cy="506.5" r="9.2"/><circle cx="354.3" cy="505.0" r="9.2"/><circle cx="356.8" cy="505.7" r="9.2"/><circle cx="359.4" cy="506.5" r="9.2"/><circle cx="361.9" cy="507.6" r="9.2"/><circle cx="364.5" cy="509.5" r="9.2"/><circle cx="367.0" cy="508.9" r="9.2"/><circle cx="369.6" cy="509.8" r="9.2"/><circle cx="372.1" cy="509.5" r="9.2"/><circle cx="374.7" cy="508.7" r="9.2"/><circle cx="377.2" cy="509.3" r="9.2"/><circle cx="379.8" cy="511.6" r="9.2"/><circle cx="382.4" cy="511.6" r="9.2"/><circle cx="384.9" cy="511.2" r="9.2"/><circle cx="387.5" cy="513.0" r="9.2"/><circle cx="390.0" cy="512.0" r="9.2"/><circle cx="392.6" cy="513.9" r="9.2"/><circle cx="395.2" cy="514.6" r="9.2"/><circle cx="397.7" cy="513.8" r="9.2"/><circle cx="400.3" cy="514.1" r="9.2"/><circle cx="402.8" cy="515.6" r="9.2"/><circle cx="405.4" cy="514.9" r="9.2"/><circle cx="408.0" cy="516.4" r="9.2"/><circle cx="410.5" cy="515.7" r="9.2"/><circle cx="413.1" cy="517.3" r="9.2"/><circle cx="415.7" cy="517.3" r="9.2"/><circle cx="418.2" cy="517.4" r="9.2"/><circle cx="420.8" cy="517.6" r="9.2"/><circle cx="423.4" cy="518.6" r="9.2"/><circle cx="425.9" cy="517.9" r="9.2"/><circle cx="428.5" cy="519.2" r="9.2"/><circle cx="431.1" cy="519.5" r="9.2"/><circle cx="433.6" cy="520.5" r="9.2"/><circle cx="436.2" cy="519.8" r="9.2"/><circle cx="438.8" cy="521.9" r="9.2"/><circle cx="441.3" cy="521.2" r="9.2"/><circle cx="443.9" cy="521.1" r="9.2"/><circle cx="446.5" cy="522.9" r="9.2"/><circle cx="449.1" cy="523.4" r="9.2"/><circle cx="451.6" cy="522.8" r="9.2"/><circle cx="454.2" cy="522.8" r="9.2"/><circle cx="456.8" cy="523.7" r="9.2"/><circle cx="459.3" cy="523.6" r="9.2"/><circle cx="461.9" cy="524.2" r="9.2"/><circle cx="464.5" cy="525.6" r="9.2"/><circle cx="467.1" cy="525.4" r="9.2"/><circle cx="469.6" cy="525.6" r="9.2"/><circle cx="472.2" cy="526.1" r="9.2"/><circle cx="474.8" cy="526.2" r="9.2"/><circle cx="477.4" cy="527.1" r="9.2"/><circle cx="479.9" cy="527.5" r="9.2"/><circle cx="482.5" cy="527.1" r="9.2"/><circle cx="485.1" cy="527.7" r="9.2"/><circle cx="487.7" cy="529.4" r="9.2"/><circle cx="490.2" cy="528.6" r="9.2"/><circle cx="492.8" cy="528.6" r="9.2"/><circle cx="495.4" cy="530.2" r="9.2"/><circle cx="498.0" cy="529.4" r="9.2"/><circle cx="500.5" cy="529.2" r="9.2"/><circle cx="503.1" cy="530.5" r="9.2"/><circle cx="505.7" cy="530.0" r="9.2"/><circle cx="508.3" cy="530.5" r="9.2"/><circle cx="510.9" cy="531.3" r="9.2"/><circle cx="513.4" cy="531.4" r="9.2"/><circle cx="516.0" cy="531.4" r="9.2"/><circle cx="518.6" cy="531.8" r="9.2"/><circle cx="521.2" cy="532.1" r="9.2"/><circle cx="523.8" cy="533.4" r="9.2"/><circle cx="526.3" cy="532.7" r="9.2"/><circle cx="528.9" cy="533.1" r="9.2"/><circle cx="531.5" cy="534.8" r="9.2"/><circle cx="534.1" cy="533.7" r="9.2"/><circle cx="536.7" cy="535.2" r="9.2"/><circle cx="539.2" cy="535.4" r="9.2"/><circle cx="541.8" cy="534.9" r="9.2"/><circle cx="544.4" cy="534.5" r="9.2"/><circle cx="547.0" cy="535.8" r="9.2"/><circle cx="549.6" cy="536.3" r="9.2"/><circle cx="552.1" cy="536.7" r="9.2"/><circle cx="554.7" cy="536.5" r="9.2"/><circle cx="557.3" cy="537.5" r="9.2"/><circle cx="559.9" cy="537.9" r="9.2"/><circle cx="562.5" cy="536.8" r="9.2"/><circle cx="565.1" cy="538.5" r="9.2"/><circle cx="567.6" cy="538.1" r="9.2"/><circle cx="570.2" cy="538.0" r="9.2"/><circle cx="572.8" cy="538.4" r="9.2"/><circle cx="575.4" cy="539.9" r="9.2"/><circle cx="578.0" cy="539.7" r="9.2"/><circle cx="580.6" cy="538.4" r="9.2"/><circle cx="583.1" cy="539.8" r="9.2"/><circle cx="585.7" cy="539.9" r="9.2"/><circle cx="588.3" cy="540.2" r="9.2"/><circle cx="590.9" cy="540.3" r="9.2"/><circle cx="593.5" cy="540.0" r="9.2"/><circle cx="596.1" cy="541.6" r="9.2"/><circle cx="598.7" cy="540.9" r="9.2"/><circle cx="601.2" cy="541.4" r="9.2"/><circle cx="603.8" cy="541.6" r="9.2"/><circle cx="606.4" cy="541.8" r="9.2"/><circle cx="609.0" cy="542.9" r="9.2"/><circle cx="611.6" cy="542.9" r="9.2"/><circle cx="614.2" cy="542.6" r="9.2"/><circle cx="616.8" cy="542.7" r="9.2"/><circle cx="619.4" cy="543.2" r="9.2"/><circle cx="621.9" cy="544.3" r="9.2"/><circle cx="624.5" cy="544.1" r="9.2"/><circle cx="627.1" cy="544.4" r="9.2"/><circle cx="629.7" cy="544.3" r="9.2"/><circle cx="632.3" cy="544.6" r="9.2"/><circle cx="634.9" cy="545.1" r="9.2"/><circle cx="637.5" cy="544.3" r="9.2"/><circle cx="640.1" cy="546.4" r="9.2"/><circle cx="642.6" cy="545.3" r="9.2"/><circle cx="645.2" cy="545.7" r="9.2"/><circle cx="647.8" cy="547.0" r="9.2"/><circle cx="650.4" cy="546.6" r="9.2"/><circle cx="653.0" cy="546.8" r="9.2"/><circle cx="655.6" cy="546.7" r="9.2"/><circle cx="658.2" cy="546.4" r="9.2"/><circle cx="660.8" cy="547.6" r="9.2"/><circle cx="663.4" cy="548.3" r="9.2"/><circle cx="665.9" cy="547.4" r="9.2"/><circle cx="668.5" cy="548.9" r="9.2"/><circle cx="671.1" cy="547.8" r="9.2"/><circle cx="673.7" cy="548.2" r="9.2"/><circle cx="676.3" cy="549.1" r="9.2"/><circle cx="678.9" cy="549.1" r="9.2"/><circle cx="681.5" cy="549.7" r="9.2"/><circle cx="684.1" cy="549.1" r="9.2"/><circle cx="686.7" cy="549.2" r="9.2"/><circle cx="689.3" cy="548.9" r="9.2"/><circle cx="691.8" cy="549.5" r="9.2"/><circle cx="694.4" cy="549.8" r="9.2"/><circle cx="697.0" cy="549.8" r="9.2"/><circle cx="699.6" cy="551.0" r="9.2"/><circle cx="702.2" cy="550.7" r="9.2"/><circle cx="704.8" cy="550.2" r="9.2"/><circle cx="707.4" cy="552.8" r="9.2"/><circle cx="710.0" cy="551.2" r="9.2"/><circle cx="712.6" cy="551.2" r="9.2"/><circle cx="715.2" cy="552.8" r="9.2"/><circle cx="717.8" cy="552.9" r="9.2"/><circle cx="720.3" cy="551.9" r="9.2"/><circle cx="722.9" cy="551.9" r="9.2"/><circle cx="725.5" cy="552.3" r="9.2"/><circle cx="728.1" cy="553.7" r="9.2"/><circle cx="730.7" cy="553.1" r="9.2"/><circle cx="733.3" cy="553.1" r="9.2"/><circle cx="735.9" cy="553.7" r="9.2"/><circle cx="738.5" cy="554.5" r="9.2"/><circle cx="741.1" cy="553.3" r="9.2"/><circle cx="743.7" cy="554.1" r="9.2"/><circle cx="746.3" cy="553.7" r="9.2"/><circle cx="748.9" cy="555.8" r="9.2"/><circle cx="751.5" cy="555.8" r="9.2"/><circle cx="754.1" cy="555.6" r="9.2"/><circle cx="756.6" cy="555.1" r="9.2"/><circle cx="759.2" cy="555.8" r="9.2"/><circle cx="761.8" cy="554.4" r="9.2"/><circle cx="764.4" cy="555.9" r="9.2"/><circle cx="767.0" cy="555.2" r="9.2"/><circle cx="769.6" cy="555.4" r="9.2"/><circle cx="772.2" cy="555.9" r="9.2"/><circle cx="774.8" cy="556.3" r="9.2"/><circle cx="777.4" cy="557.0" r="9.2"/><circle cx="780.0" cy="557.2" r="9.2"/><circle cx="782.6" cy="557.1" r="9.2"/><circle cx="785.2" cy="556.7" r="9.2"/><circle cx="787.8" cy="557.7" r="9.2"/><circle cx="790.4" cy="557.4" r="9.2"/><circle cx="793.0" cy="558.3" r="9.2"/><circle cx="795.6" cy="557.3" r="9.2"/><circle cx="798.2" cy="556.5" r="9.2"/></g>
<circle cx="134.0" cy="100.6" r="8.9" fill="#A5A5A5"/><circle cx="136.0" cy="323.0" r="8.9" fill="#A5A5A5"/><circle cx="138.3" cy="375.7" r="8.9" fill="#A5A5A5"/><circle cx="510.1" cy="524.3" r="8.9" fill="#A5A5A5"/>
<rect x="1053.0" y="27.0" width="594.6" height="578.0" fill="none" stroke="#000" stroke-width="3.7"/>
<line x1="1039.5" y1="27.00" x2="1053.0" y2="27.00" stroke="#000" stroke-width="3.7"/>
<line x1="1039.5" y1="109.57" x2="1053.0" y2="109.57" stroke="#000" stroke-width="3.7"/>
<line x1="1039.5" y1="192.14" x2="1053.0" y2="192.14" stroke="#000" stroke-width="3.7"/>
<line x1="1039.5" y1="274.71" x2="1053.0" y2="274.71" stroke="#000" stroke-width="3.7"/>
<line x1="1039.5" y1="357.29" x2="1053.0" y2="357.29" stroke="#000" stroke-width="3.7"/>
<line x1="1039.5" y1="439.86" x2="1053.0" y2="439.86" stroke="#000" stroke-width="3.7"/>
<line x1="1039.5" y1="522.43" x2="1053.0" y2="522.43" stroke="#000" stroke-width="3.7"/>
<line x1="1039.5" y1="605.00" x2="1053.0" y2="605.00" stroke="#000" stroke-width="3.7"/>
<line x1="1647.6" y1="27.00" x2="1661" y2="27.00" stroke="#000" stroke-width="3.7"/>
<line x1="1647.6" y1="99.25" x2="1661" y2="99.25" stroke="#000" stroke-width="3.7"/>
<line x1="1647.6" y1="171.50" x2="1661" y2="171.50" stroke="#000" stroke-width="3.7"/>
<line x1="1647.6" y1="243.75" x2="1661" y2="243.75" stroke="#000" stroke-width="3.7"/>
<line x1="1647.6" y1="316.00" x2="1661" y2="316.00" stroke="#000" stroke-width="3.7"/>
<line x1="1647.6" y1="388.25" x2="1661" y2="388.25" stroke="#000" stroke-width="3.7"/>
<line x1="1647.6" y1="460.50" x2="1661" y2="460.50" stroke="#000" stroke-width="3.7"/>
<line x1="1647.6" y1="532.75" x2="1661" y2="532.75" stroke="#000" stroke-width="3.7"/>
<line x1="1647.6" y1="605.00" x2="1661" y2="605.00" stroke="#000" stroke-width="3.7"/>
<line x1="1053.00" y1="605.0" x2="1053.00" y2="618.5" stroke="#000" stroke-width="3.7"/>
<line x1="1171.92" y1="605.0" x2="1171.92" y2="618.5" stroke="#000" stroke-width="3.7"/>
<line x1="1290.84" y1="605.0" x2="1290.84" y2="618.5" stroke="#000" stroke-width="3.7"/>
<line x1="1409.76" y1="605.0" x2="1409.76" y2="618.5" stroke="#000" stroke-width="3.7"/>
<line x1="1528.68" y1="605.0" x2="1528.68" y2="618.5" stroke="#000" stroke-width="3.7"/>
<line x1="1647.60" y1="605.0" x2="1647.60" y2="618.5" stroke="#000" stroke-width="3.7"/>
<line x1="1054.4" y1="527.5" x2="1054.4" y2="115" stroke="#ED7D31" stroke-width="5.0"/>
<path d="M1054.60,116.00 L1054.65,118.02 L1054.70,120.61 L1054.77,123.67 L1054.85,127.10 L1054.93,130.81 L1055.02,134.70 L1055.11,138.66 L1055.21,142.59 L1055.30,146.41 L1055.40,150.00 L1055.50,153.50 L1055.60,157.10 L1055.70,160.74 L1055.81,164.41 L1055.92,168.06 L1056.03,171.67 L1056.15,175.20 L1056.26,178.62 L1056.38,181.90 L1056.50,185.00 L1056.62,187.88 L1056.74,190.56 L1056.85,193.08 L1056.97,195.48 L1057.09,197.81 L1057.22,200.12 L1057.35,202.45 L1057.49,204.84 L1057.64,207.34 L1057.80,210.00 L1057.97,212.78 L1058.14,215.60 L1058.31,218.48 L1058.49,221.40 L1058.68,224.38 L1058.88,227.41 L1059.09,230.48 L1059.31,233.61 L1059.55,236.78 L1059.80,240.00 L1060.07,243.34 L1060.35,246.82 L1060.64,250.42 L1060.95,254.08 L1061.26,257.76 L1061.59,261.41 L1061.93,265.00 L1062.28,268.47 L1062.63,271.78 L1063.00,274.90 L1063.38,277.82 L1063.77,280.59 L1064.17,283.24 L1064.58,285.78 L1065.00,288.24 L1065.43,290.63 L1065.86,292.98 L1066.31,295.32 L1066.75,297.65 L1067.20,300.00 L1067.66,302.37 L1068.13,304.74 L1068.61,307.10 L1069.09,309.44 L1069.58,311.74 L1070.07,313.99 L1070.56,316.18 L1071.05,318.31 L1071.53,320.35 L1072.00,322.30 L1072.46,324.14 L1072.91,325.86 L1073.35,327.49 L1073.79,329.04 L1074.23,330.54 L1074.67,332.02 L1075.12,333.48 L1075.57,334.95 L1076.03,336.45 L1076.50,338.00 L1076.98,339.58 L1077.44,341.16 L1077.91,342.75 L1078.39,344.33 L1078.87,345.92 L1079.37,347.51 L1079.88,349.12 L1080.42,350.73 L1080.99,352.36 L1081.60,354.00 L1082.24,355.67 L1082.92,357.38 L1083.62,359.11 L1084.34,360.85 L1085.09,362.59 L1085.85,364.33 L1086.63,366.05 L1087.41,367.74 L1088.21,369.40 L1089.00,371.00 L1089.81,372.58 L1090.66,374.16 L1091.53,375.72 L1092.42,377.27 L1093.31,378.78 L1094.19,380.25 L1095.06,381.67 L1095.91,383.02 L1096.73,384.30 L1097.50,385.50 L1098.23,386.60 L1098.91,387.60 L1099.56,388.53 L1100.19,389.38 L1100.80,390.19 L1101.41,390.97 L1102.02,391.72 L1102.66,392.47 L1103.31,393.22 L1104.00,394.00 L1104.69,394.78 L1105.36,395.54 L1106.01,396.29 L1106.68,397.02 L1107.36,397.74 L1108.09,398.46 L1108.87,399.18 L1109.72,399.91 L1110.66,400.64 L1111.70,401.40 L1112.86,402.18 L1114.14,403.00 L1115.51,403.83 L1116.96,404.68 L1118.46,405.52 L1119.98,406.35 L1118.46,405.52 L1120.96,407.06 L1123.46,407.92" fill="none" stroke="#ED7D31" stroke-width="6.4" stroke-linejoin="round"/>
<path d="M1118.46,405.52 L1120.96,407.06 L1123.46,407.92 L1125.96,408.66 L1128.46,410.03 L1130.96,410.59 L1133.46,412.15 L1135.96,413.79 L1138.46,413.22 L1140.96,413.83 L1143.46,415.30 L1145.96,415.89 L1148.46,416.37 L1150.96,416.30 L1153.46,417.56 L1155.96,418.69 L1158.46,417.87 L1160.96,419.08 L1163.46,418.65 L1165.96,419.66 L1168.46,419.84 L1170.96,421.53 L1173.46,421.37 L1175.96,423.01 L1178.46,423.49 L1180.96,423.81 L1183.46,422.72 L1185.96,424.65 L1188.46,425.53 L1190.96,426.17 L1193.46,425.54 L1195.96,426.78 L1198.46,426.93 L1200.96,427.53 L1203.46,429.29 L1205.96,428.43 L1208.46,429.37 L1210.96,430.39 L1213.46,429.72 L1215.96,430.37 L1218.46,430.82 L1220.96,431.05 L1223.46,430.39 L1225.96,431.53 L1228.46,432.64 L1230.96,430.81 L1233.46,432.69 L1235.96,432.38 L1238.46,432.04 L1240.96,434.08 L1243.46,433.39 L1245.96,432.18 L1248.46,433.22 L1250.96,433.72 L1253.46,433.32 L1255.96,434.07 L1258.46,433.67 L1260.96,434.32 L1263.46,434.98 L1265.96,433.63 L1268.46,434.37 L1270.96,434.02 L1273.46,434.56 L1275.96,433.75 L1278.46,434.28 L1280.96,434.65 L1283.46,435.51 L1285.96,435.77 L1288.46,434.14 L1290.96,434.60 L1293.46,435.70 L1295.96,433.95 L1298.46,435.12 L1300.96,435.47 L1303.46,436.52 L1305.96,436.22 L1308.46,435.61 L1310.96,435.69 L1313.46,435.87 L1315.96,437.22 L1318.46,435.95 L1320.96,436.14 L1323.46,436.70 L1325.96,436.47 L1328.46,436.52 L1330.96,435.98 L1333.46,436.85 L1335.96,436.65 L1338.46,437.87 L1340.96,437.61 L1343.46,437.24 L1345.96,437.82 L1348.46,437.20 L1350.96,438.27 L1353.46,437.63 L1355.96,438.13 L1358.46,436.92 L1360.96,438.16 L1363.46,436.83 L1365.96,436.69 L1368.46,438.00 L1370.96,437.67 L1373.46,438.51 L1375.96,440.06 L1378.46,438.00 L1380.96,438.23 L1383.46,438.89 L1385.96,439.18 L1388.46,438.78 L1390.96,438.84 L1393.46,439.54 L1395.96,439.47 L1398.46,438.44 L1400.96,439.16 L1403.46,439.28 L1405.96,438.56 L1408.46,439.51 L1410.96,438.75 L1413.46,440.05 L1415.96,439.53 L1418.46,439.47 L1420.96,439.00 L1423.46,439.34 L1425.96,438.03 L1428.46,438.64 L1430.96,439.69 L1433.46,437.95 L1435.96,440.03 L1438.46,438.22 L1440.96,439.98 L1443.46,438.87 L1445.96,440.02 L1448.46,439.58 L1450.96,438.43 L1453.46,440.40 L1455.96,440.56 L1458.46,439.53 L1460.96,439.41 L1463.46,439.51 L1465.96,438.97 L1468.46,440.44 L1470.96,439.32 L1473.46,439.69 L1475.96,439.20 L1478.46,439.34 L1480.96,438.91 L1483.46,440.72 L1485.96,439.75 L1488.46,440.56 L1490.96,439.92 L1493.46,439.45 L1495.96,439.73 L1498.46,439.59 L1500.96,440.01 L1503.46,439.77 L1505.96,439.84 L1508.46,439.11 L1510.96,439.53 L1513.46,441.27 L1515.96,439.66 L1518.46,439.41 L1520.96,440.40 L1523.46,441.17 L1525.96,439.19 L1528.46,440.08 L1530.96,439.80 L1533.46,439.03 L1535.96,440.79 L1538.46,440.28 L1540.96,440.37 L1543.46,439.81 L1545.96,440.68 L1548.46,440.00 L1550.96,440.30 L1553.46,439.65 L1555.96,439.60 L1558.46,441.42 L1560.96,440.16 L1563.46,440.74 L1565.96,440.54 L1568.46,440.26 L1570.96,440.24 L1573.46,441.20 L1575.96,441.03 L1578.46,442.94 L1580.96,442.56 L1583.46,442.51 L1585.96,441.92 L1588.46,441.58 L1590.96,440.82 L1593.46,440.18 L1595.96,441.77 L1598.46,441.73 L1600.96,440.92 L1603.46,441.37 L1605.96,441.51 L1608.46,441.52 L1610.96,441.56 L1613.46,440.57 L1615.96,441.92 L1618.46,439.95 L1620.96,441.39 L1623.46,441.09 L1625.96,441.31 L1628.46,441.98 L1630.96,441.67 L1633.46,439.79 L1635.96,439.37 L1638.46,441.09 L1640.96,440.49 L1643.46,440.46 L1645.96,440.42 L1647.60,440.40" fill="none" stroke="#ED7D31" stroke-width="7.2" stroke-linejoin="round"/>
<path d="M1052.80,104.30 C1072.57,131.72 1131.80,226.28 1171.40,268.80 C1211.00,311.32 1250.77,338.37 1290.40,359.40 C1330.03,380.43 1369.60,386.12 1409.20,395.00 C1448.80,403.88 1488.40,407.30 1528.00,412.70 C1567.60,418.10 1627.00,424.95 1646.80,427.40" fill="none" stroke="#4472C4" stroke-width="7" stroke-linecap="round"/>
<circle cx="1052.8" cy="104.3" r="11.3" fill="#4472C4"/><circle cx="1171.4" cy="268.8" r="11.3" fill="#4472C4"/><circle cx="1290.4" cy="359.4" r="11.3" fill="#4472C4"/><circle cx="1409.2" cy="395.0" r="11.3" fill="#4472C4"/><circle cx="1528.0" cy="412.7" r="11.3" fill="#4472C4"/><circle cx="1646.8" cy="427.4" r="11.3" fill="#4472C4"/>
<text x="95.0" y="27.2" font-size="38.0" text-anchor="end" font-weight="normal" fill="#595959" font-family='"Liberation Sans", Arial, sans-serif'>1</text>
<text x="95.0" y="113.6" font-size="38.0" text-anchor="end" font-weight="normal" fill="#595959" font-family='"Liberation Sans", Arial, sans-serif'>0</text>
<text x="95.0" y="200.1" font-size="38.0" text-anchor="end" font-weight="normal" fill="#595959" font-family='"Liberation Sans", Arial, sans-serif'>-1</text>
<text x="95.0" y="286.5" font-size="38.0" text-anchor="end" font-weight="normal" fill="#595959" font-family='"Liberation Sans", Arial, sans-serif'>-2</text>
<text x="95.0" y="372.9" font-size="38.0" text-anchor="end" font-weight="normal" fill="#595959" font-family='"Liberation Sans", Arial, sans-serif'>-3</text>
<text x="95.0" y="459.3" font-size="38.0" text-anchor="end" font-weight="normal" fill="#595959" font-family='"Liberation Sans", Arial, sans-serif'>-4</text>
<text x="95.0" y="545.8" font-size="38.0" text-anchor="end" font-weight="normal" fill="#595959" font-family='"Liberation Sans", Arial, sans-serif'>-5</text>
<text x="95.0" y="632.2" font-size="38.0" text-anchor="end" font-weight="normal" fill="#595959" font-family='"Liberation Sans", Arial, sans-serif'>-6</text>
<text x="134.0" y="685.8" font-size="38.0" text-anchor="middle" font-weight="normal" fill="#595959" font-family='"Liberation Sans", Arial, sans-serif'>0</text>
<text x="356.3" y="685.8" font-size="38.0" text-anchor="middle" font-weight="normal" fill="#595959" font-family='"Liberation Sans", Arial, sans-serif'>200</text>
<text x="578.7" y="685.8" font-size="38.0" text-anchor="middle" font-weight="normal" fill="#595959" font-family='"Liberation Sans", Arial, sans-serif'>400</text>
<text x="801.0" y="685.8" font-size="38.0" text-anchor="middle" font-weight="normal" fill="#595959" font-family='"Liberation Sans", Arial, sans-serif'>600</text>
<text x="1013.8" y="39.2" font-size="38.0" text-anchor="end" font-weight="normal" fill="#595959" font-family='"Liberation Sans", Arial, sans-serif'>120.5</text>
<text x="1013.8" y="121.8" font-size="38.0" text-anchor="end" font-weight="normal" fill="#595959" font-family='"Liberation Sans", Arial, sans-serif'>120.0</text>
<text x="1013.8" y="204.3" font-size="38.0" text-anchor="end" font-weight="normal" fill="#595959" font-family='"Liberation Sans", Arial, sans-serif'>119.5</text>
<text x="1013.8" y="286.9" font-size="38.0" text-anchor="end" font-weight="normal" fill="#595959" font-family='"Liberation Sans", Arial, sans-serif'>119.0</text>
<text x="1013.8" y="369.5" font-size="38.0" text-anchor="end" font-weight="normal" fill="#595959" font-family='"Liberation Sans", Arial, sans-serif'>118.5</text>
<text x="1013.8" y="452.1" font-size="38.0" text-anchor="end" font-weight="normal" fill="#595959" font-family='"Liberation Sans", Arial, sans-serif'>118.0</text>
<text x="1013.8" y="534.6" font-size="38.0" text-anchor="end" font-weight="normal" fill="#595959" font-family='"Liberation Sans", Arial, sans-serif'>117.5</text>
<text x="1013.8" y="617.2" font-size="38.0" text-anchor="end" font-weight="normal" fill="#595959" font-family='"Liberation Sans", Arial, sans-serif'>117.0</text>
<text x="1686.2" y="39.2" font-size="38.0" text-anchor="start" font-weight="normal" fill="#595959" font-family='"Liberation Sans", Arial, sans-serif'>3.0</text>
<text x="1686.2" y="111.5" font-size="38.0" text-anchor="start" font-weight="normal" fill="#595959" font-family='"Liberation Sans", Arial, sans-serif'>2.5</text>
<text x="1686.2" y="183.7" font-size="38.0" text-anchor="start" font-weight="normal" fill="#595959" font-family='"Liberation Sans", Arial, sans-serif'>2.0</text>
<text x="1686.2" y="255.9" font-size="38.0" text-anchor="start" font-weight="normal" fill="#595959" font-family='"Liberation Sans", Arial, sans-serif'>1.5</text>
<text x="1686.2" y="328.2" font-size="38.0" text-anchor="start" font-weight="normal" fill="#595959" font-family='"Liberation Sans", Arial, sans-serif'>1.0</text>
<text x="1686.2" y="400.4" font-size="38.0" text-anchor="start" font-weight="normal" fill="#595959" font-family='"Liberation Sans", Arial, sans-serif'>0.5</text>
<text x="1686.2" y="472.7" font-size="38.0" text-anchor="start" font-weight="normal" fill="#595959" font-family='"Liberation Sans", Arial, sans-serif'>0.0</text>
<text x="1686.2" y="545.0" font-size="38.0" text-anchor="start" font-weight="normal" fill="#595959" font-family='"Liberation Sans", Arial, sans-serif'>-0.5</text>
<text x="1686.2" y="617.2" font-size="38.0" text-anchor="start" font-weight="normal" fill="#595959" font-family='"Liberation Sans", Arial, sans-serif'>-1.0</text>
<text x="1053.0" y="672.7" font-size="38.0" text-anchor="middle" font-weight="normal" fill="#595959" font-family='"Liberation Sans", Arial, sans-serif'>0</text>
<text x="1171.9" y="672.7" font-size="38.0" text-anchor="middle" font-weight="normal" fill="#595959" font-family='"Liberation Sans", Arial, sans-serif'>2</text>
<text x="1290.8" y="672.7" font-size="38.0" text-anchor="middle" font-weight="normal" fill="#595959" font-family='"Liberation Sans", Arial, sans-serif'>4</text>
<text x="1409.8" y="672.7" font-size="38.0" text-anchor="middle" font-weight="normal" fill="#595959" font-family='"Liberation Sans", Arial, sans-serif'>6</text>
<text x="1528.7" y="672.7" font-size="38.0" text-anchor="middle" font-weight="normal" fill="#595959" font-family='"Liberation Sans", Arial, sans-serif'>8</text>
<text x="1647.6" y="672.7" font-size="38.0" text-anchor="middle" font-weight="normal" fill="#595959" font-family='"Liberation Sans", Arial, sans-serif'>10</text>
<circle cx="637" cy="137.7" r="8.7" fill="#4472C4"/>
<text x="657.8" y="149.5" font-size="37.0" text-anchor="start" font-weight="normal" fill="#595959" font-family='"Liberation Sans", Arial, sans-serif'>0.8V</text>
<circle cx="637" cy="205.3" r="8.7" fill="#ED7D31"/>
<text x="657.8" y="217.1" font-size="37.0" text-anchor="start" font-weight="normal" fill="#595959" font-family='"Liberation Sans", Arial, sans-serif'>0.9V</text>
<circle cx="637" cy="272.9" r="8.7" fill="#A5A5A5"/>
<text x="657.8" y="284.7" font-size="37.0" text-anchor="start" font-weight="normal" fill="#595959" font-family='"Liberation Sans", Arial, sans-serif'>1.0V</text>
<text font-weight="bold" fill="#595959" font-family='"Liberation Sans", Arial, sans-serif'><tspan x="435.04" y="751.60" font-size="43.0">t </tspan><tspan x="461.64" y="754.57" font-size="51.5" rotate="8.0">/</tspan><tspan x="479.07" y="751.60" font-size="43.0">s</tspan></text>
<text font-weight="bold" fill="#595959" font-family='"Liberation Sans", Arial, sans-serif'><tspan x="1318.14" y="742.20" font-size="43.0">t </tspan><tspan x="1344.44" y="744.97" font-size="51.5" rotate="8.0">/</tspan><tspan x="1362.32" y="742.20" font-size="43.0">s</tspan></text>
<text font-weight="normal" fill="#000" font-family='"Liberation Serif", "Times New Roman", serif'><tspan x="172.35" y="87.80" font-size="52.0">a</tspan><tspan x="194.80" y="87.80" font-size="52.0">)</tspan></text>
<text font-weight="normal" fill="#000" font-family='"Liberation Serif", "Times New Roman", serif'><tspan x="1121.19" y="110.80" font-size="52.0">b</tspan><tspan x="1146.65" y="110.80" font-size="52.0">)</tspan></text>
<text transform="rotate(-90)" font-weight="bold" fill="#595959" font-family='"Liberation Sans", Arial, sans-serif'><tspan x="-384.84" y="33.80" font-size="43.0">Δ</tspan><tspan x="-355.89" y="33.80" font-size="43.0">-</tspan><tspan x="-343.44" y="33.80" font-size="43.0">Δ</tspan><tspan x="-314.94" y="45.20" font-size="29.0">0 </tspan><tspan x="-288.01" y="37.27" font-size="51.5" rotate="8.0">/</tspan><tspan x="-268.22" y="31.50" font-size="43.0">°</tspan></text>
<text transform="rotate(-90)" font-weight="bold" fill="#4472C4" font-family='"Liberation Sans", Arial, sans-serif'><tspan x="-354.59" y="903.30" font-size="43.0">Δ </tspan><tspan x="-314.76" y="906.57" font-size="51.5" rotate="8.0">/</tspan><tspan x="-295.62" y="900.70" font-size="43.0">°</tspan></text>
<text transform="rotate(-90)" font-weight="bold" fill="#ED7D31" font-family='"Liberation Sans", Arial, sans-serif'><tspan x="-427.63" y="1812.00" font-size="43.0">j </tspan><tspan x="-395.01" y="1815.22" font-size="51.5" rotate="8.0">/</tspan><tspan x="-374.20" y="1812.00" font-size="43.0">m</tspan><tspan x="-338.50" y="1812.00" font-size="43.0">A </tspan><tspan x="-289.17" y="1812.00" font-size="43.0">c</tspan><tspan x="-267.70" y="1812.00" font-size="43.0">m</tspan><tspan x="-229.65" y="1797.00" font-size="28.0">-</tspan><tspan x="-220.10" y="1798.20" font-size="28.5">2</tspan></text>
</svg>
</body></html>
